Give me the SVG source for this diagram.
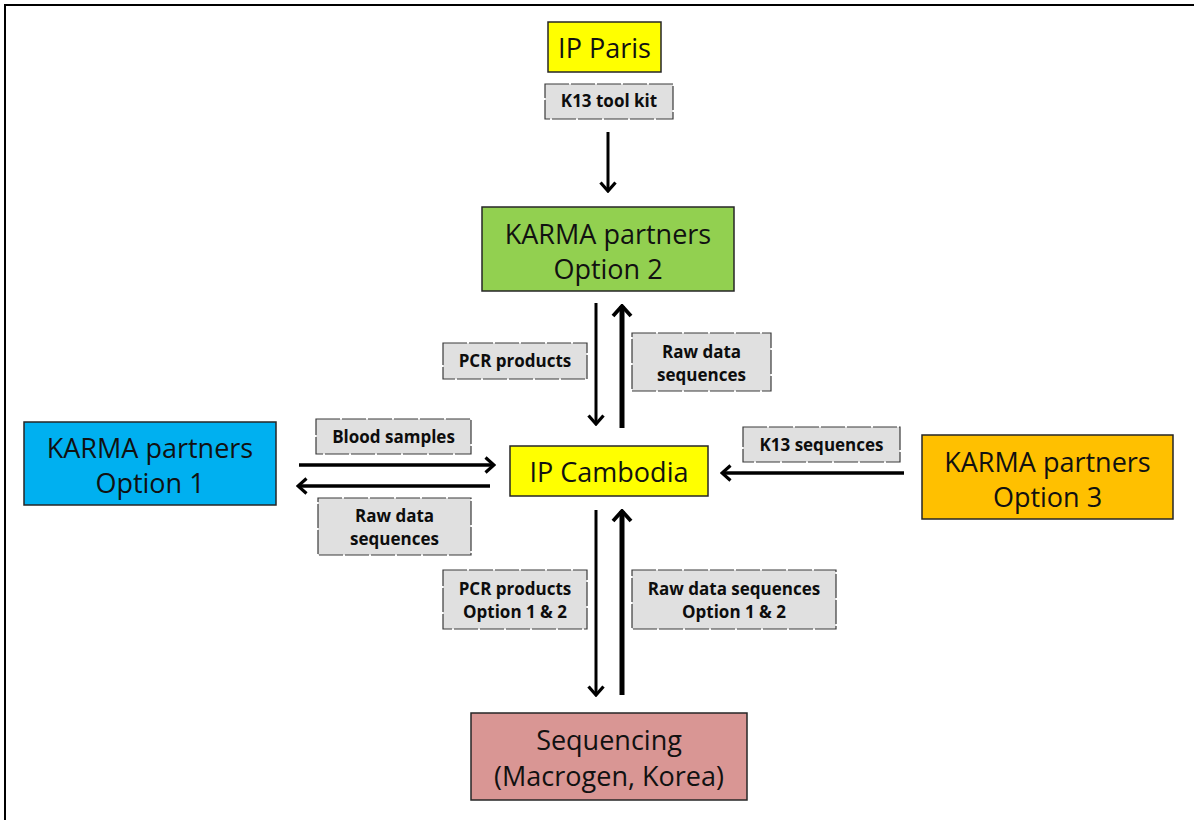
<svg xmlns="http://www.w3.org/2000/svg" width="1194" height="820" viewBox="0 0 1194 820">
<style>
.node{stroke:#262626;stroke-width:1.5}
.nt{font-family:"Open Sans","Noto Sans","DejaVu Sans",sans-serif;font-size:27px;fill:#111;text-anchor:middle}
.lb{fill:#E0E0E0;stroke:#3a3a3a;stroke-width:1.2;stroke-dasharray:24 2}
.lt{font-family:"Open Sans","Noto Sans","DejaVu Sans",sans-serif;font-size:17px;font-weight:bold;fill:#0d0d0d;text-anchor:middle}
.thin{stroke:#000;stroke-width:3;fill:none}
.thick{stroke:#000;stroke-width:5;fill:none}
.mid{stroke:#000;stroke-width:3.5;fill:none}
</style>
<defs>
<marker id="ah" viewBox="0 0 12 18" refX="10" refY="9" markerWidth="12" markerHeight="18" markerUnits="userSpaceOnUse" orient="auto">
<path d="M1.5,1.5 L10,9 L1.5,16.5" fill="none" stroke="#000" stroke-width="3.2"/>
</marker>
<marker id="ahb" viewBox="0 0 14 22" refX="12" refY="11" markerWidth="14" markerHeight="22" markerUnits="userSpaceOnUse" orient="auto">
<path d="M2,2 L12,11 L2,20" fill="none" stroke="#000" stroke-width="3.8"/>
</marker>
</defs>
<rect width="1194" height="820" fill="#fff"/>
<path d="M5,820 L5,5 L1194,5" fill="none" stroke="#000" stroke-width="2"/>

<g id="connectors">
<line class="thin" x1="608" y1="132" x2="608" y2="191" marker-end="url(#ah)"/>
<line class="thin" x1="596" y1="303" x2="596" y2="424" marker-end="url(#ah)"/>
<line class="thick" x1="622" y1="428" x2="622" y2="306" marker-end="url(#ahb)"/>
<line class="mid" x1="299" y1="465" x2="494" y2="465" marker-end="url(#ah)"/>
<line class="mid" x1="490" y1="486" x2="298" y2="486" marker-end="url(#ah)"/>
<line class="mid" x1="904" y1="473" x2="722" y2="473" marker-end="url(#ah)"/>
<line class="thin" x1="596" y1="510" x2="596" y2="695" marker-end="url(#ah)"/>
<line class="thick" x1="622" y1="695" x2="622" y2="511" marker-end="url(#ahb)"/>
</g>

<g id="ip-paris">
<rect class="node" x="548" y="22" width="113" height="50" fill="#FFFF00"/>
<text class="nt" x="604.5" y="58">IP Paris</text>
</g>
<g id="karma-option2">
<rect class="node" x="482" y="207" width="252" height="84" fill="#92D050"/>
<text class="nt" x="608" y="244">KARMA partners</text>
<text class="nt" x="608" y="279">Option 2</text>
</g>
<g id="karma-option1">
<rect class="node" x="24" y="422" width="252" height="83" fill="#00B0F0"/>
<text class="nt" x="150" y="458">KARMA partners</text>
<text class="nt" x="150" y="493">Option 1</text>
</g>
<g id="ip-cambodia">
<rect class="node" x="510" y="446" width="198" height="50" fill="#FFFF00"/>
<text class="nt" x="609" y="482">IP Cambodia</text>
</g>
<g id="karma-option3">
<rect class="node" x="922" y="435" width="251" height="84" fill="#FFC000"/>
<text class="nt" x="1047.5" y="472">KARMA partners</text>
<text class="nt" x="1047.5" y="507">Option 3</text>
</g>
<g id="sequencing">
<rect class="node" x="471" y="713" width="276" height="87" fill="#D99694"/>
<text class="nt" x="609" y="750">Sequencing</text>
<text class="nt" x="609" y="786">(Macrogen, Korea)</text>
</g>

<g id="label-k13-toolkit">
<rect class="lb" x="545" y="84" width="128" height="35"/>
<text class="lt" x="609" y="107">K13 tool kit</text>
</g>
<g id="label-pcr-products">
<rect class="lb" x="443" y="343" width="144" height="36"/>
<text class="lt" x="515" y="367">PCR products</text>
</g>
<g id="label-raw-data-top">
<rect class="lb" x="632" y="333" width="139" height="58"/>
<text class="lt" x="701.5" y="358">Raw data</text>
<text class="lt" x="701.5" y="381">sequences</text>
</g>
<g id="label-blood-samples">
<rect class="lb" x="316" y="419" width="155" height="35"/>
<text class="lt" x="393.5" y="443">Blood samples</text>
</g>
<g id="label-raw-data-left">
<rect class="lb" x="318" y="498" width="153" height="57"/>
<text class="lt" x="394.5" y="522">Raw data</text>
<text class="lt" x="394.5" y="545">sequences</text>
</g>
<g id="label-k13-sequences">
<rect class="lb" x="743" y="427" width="157" height="35"/>
<text class="lt" x="821.5" y="451">K13 sequences</text>
</g>
<g id="label-pcr-option12">
<rect class="lb" x="443" y="570" width="144" height="59"/>
<text class="lt" x="515" y="595">PCR products</text>
<text class="lt" x="515" y="618">Option 1 &amp; 2</text>
</g>
<g id="label-raw-option12">
<rect class="lb" x="632" y="570" width="204" height="59"/>
<text class="lt" x="734" y="595">Raw data sequences</text>
<text class="lt" x="734" y="618">Option 1 &amp; 2</text>
</g>
</svg>
